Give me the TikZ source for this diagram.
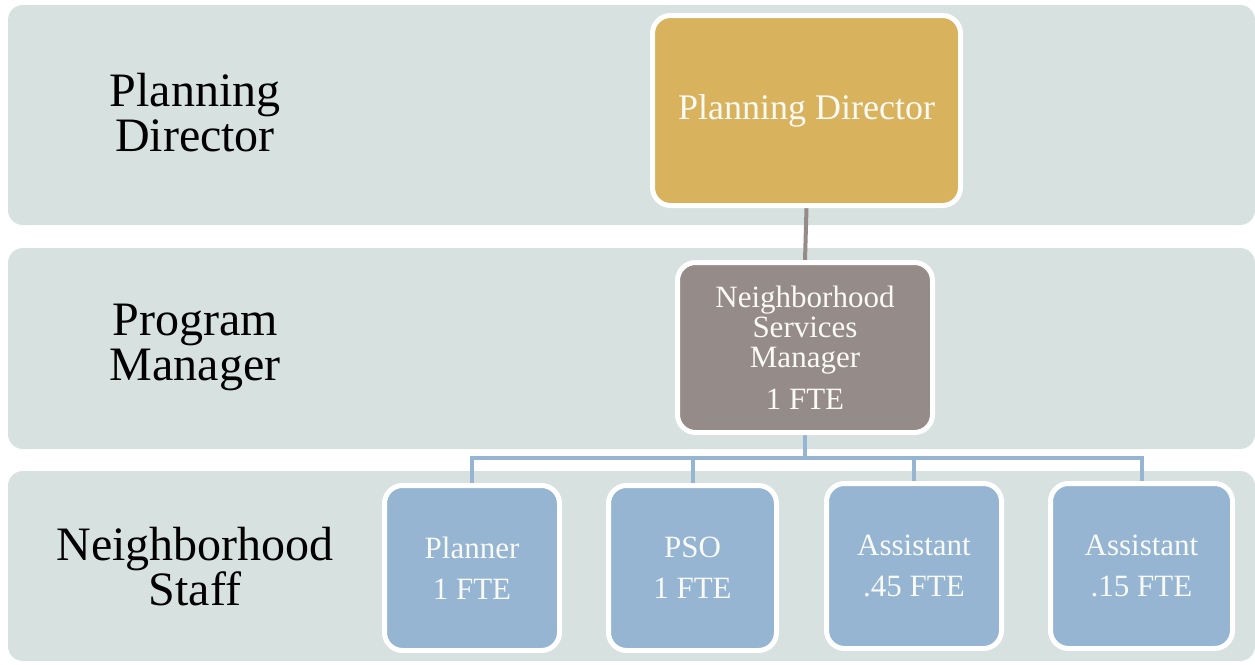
\documentclass[tikz,border=0pt]{standalone}
\usepackage{fontspec}
\setmainfont{Liberation Serif}
\usetikzlibrary{calc}
\pgfdeclarelayer{bands}
\pgfdeclarelayer{lines}
\pgfsetlayers{bands,lines,main}
\definecolor{bandc}{HTML}{D7E1DF}
\definecolor{dirc}{HTML}{D8B25C}
\definecolor{mgrc}{HTML}{958B89}
\definecolor{staffc}{HTML}{95B5D3}
\definecolor{txtw}{HTML}{FAFAF5}
\tikzset{
  band/.style={fill=bandc, draw=none, rounded corners=15pt, inner sep=0pt, minimum width=1247pt},
  lvl/.style={align=center, text=black, font=\fontsize{48}{45}\selectfont},
  boxbase/.style={draw=white, line width=5pt, rounded corners=18pt, text=txtw, align=center, inner sep=0pt},
  dirbox/.style={boxbase, fill=dirc, font=\fontsize{36}{36}\selectfont},
  mgrbox/.style={boxbase, fill=mgrc, font=\fontsize{31}{30}\selectfont},
  staffbox/.style={boxbase, fill=staffc, minimum height=165pt, font=\fontsize{31}{41}\selectfont},
  grayline/.style={draw=mgrc, line width=4pt},
  blueline/.style={draw=staffc, line width=4pt},
}
\begin{document}
\begin{tikzpicture}[x=1pt,y=-1pt]
\useasboundingbox (0,0) rectangle (1255,664);
% bands
\begin{pgfonlayer}{bands}
\node[band, minimum height=220pt] (b1) at (631.5,115) {};
\node[band, minimum height=201pt] (b2) at (631.5,348.5) {};
\node[band, minimum height=190pt] (b3) at (631.5,566) {};
\end{pgfonlayer}
% level labels
\node[lvl] (l1) at (195,113) {Planning\\Director};
\node[lvl] (l2) at (195,347) {Program\\Manager};
\node[lvl] (l3) at (195,567) {Neighborhood\\Staff};
% boxes
\node[dirbox, minimum width=308pt, minimum height=190pt] (dir) at (806.5,110.5) {Planning Director};
\node[mgrbox, minimum width=255pt, minimum height=170pt] (mgr) at (805,347.5) {Neighborhood\\Services\\Manager\\[12pt]1 FTE};
\node[staffbox, minimum width=175pt] (s1) at (472,568) {Planner\\1 FTE};
\node[staffbox, minimum width=168pt] (s2) at (692.5,568) {PSO\\1 FTE};
\node[staffbox, minimum width=175pt] (s3) at (914,566) {Assistant\\.45 FTE};
\node[staffbox, minimum width=182pt] (s4) at (1141.5,566) {Assistant\\.15 FTE};
% connectors
\begin{pgfonlayer}{lines}
\coordinate (bus) at (805,458);
\draw[grayline] (dir.south) -- (mgr.north);
\draw[blueline] (mgr.south) -- (mgr.south |- bus) -| (s1.north);
\draw[blueline] (mgr.south |- bus) -| (s2.north);
\draw[blueline] (mgr.south |- bus) -| (s3.north);
\draw[blueline] (mgr.south |- bus) -| (s4.north);
\end{pgfonlayer}
\end{tikzpicture}
\end{document}
